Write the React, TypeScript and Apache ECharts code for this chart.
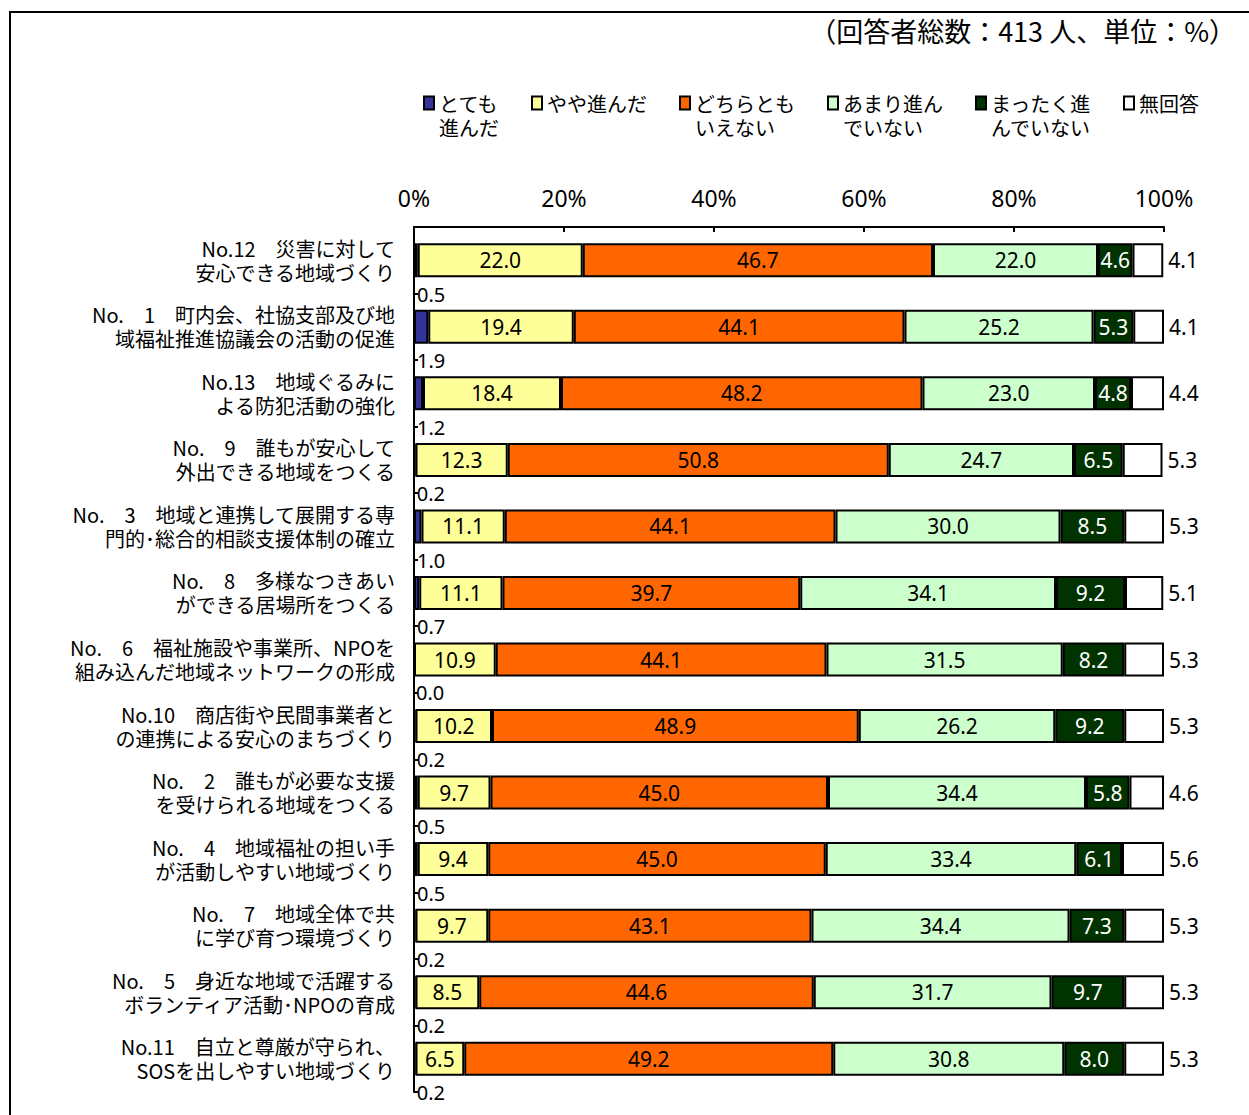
import React, { useEffect, useRef } from "react";
import * as echarts from "echarts";

const categories = [
  "No.12　災害に対して\n安心できる地域づくり",
  "No.　1　町内会、社協支部及び地\n域福祉推進協議会の活動の促進",
  "No.13　地域ぐるみに\nよる防犯活動の強化",
  "No.　9　誰もが安心して\n外出できる地域をつくる",
  "No.　3　地域と連携して展開する専\n門的･総合的相談支援体制の確立",
  "No.　8　多様なつきあい\nができる居場所をつくる",
  "No.　6　福祉施設や事業所、NPOを\n組み込んだ地域ネットワークの形成",
  "No.10　商店街や民間事業者と\nの連携による安心のまちづくり",
  "No.　2　誰もが必要な支援\nを受けられる地域をつくる",
  "No.　4　地域福祉の担い手\nが活動しやすい地域づくり",
  "No.　7　地域全体で共\nに学び育つ環境づくり",
  "No.　5　身近な地域で活躍する\nボランティア活動･NPOの育成",
  "No.11　自立と尊厳が守られ、\nSOSを出しやすい地域づくり",
];

const seriesNames = [
  "とても進んだ",
  "やや進んだ",
  "どちらともいえない",
  "あまり進んでいない",
  "まったく進んでいない",
  "無回答",
];
const legendLabels = [
  "とても\n進んだ",
  "やや進んだ",
  "どちらとも\nいえない",
  "あまり進ん\nでいない",
  "まったく進\nんでいない",
  "無回答",
];

const veryProgressed = [0.5, 1.9, 1.2, 0.2, 1.0, 0.7, 0.0, 0.2, 0.5, 0.5, 0.2, 0.2, 0.2];
const somewhatProgressed = [22.0, 19.4, 18.4, 12.3, 11.1, 11.1, 10.9, 10.2, 9.7, 9.4, 9.7, 8.5, 6.5];
const neither = [46.7, 44.1, 48.2, 50.8, 44.1, 39.7, 44.1, 48.9, 45.0, 45.0, 43.1, 44.6, 49.2];
const notMuch = [22.0, 25.2, 23.0, 24.7, 30.0, 34.1, 31.5, 26.2, 34.4, 33.4, 34.4, 31.7, 30.8];
const notAtAll = [4.6, 5.3, 4.8, 6.5, 8.5, 9.2, 8.2, 9.2, 5.8, 6.1, 7.3, 9.7, 8.0];
const noAnswer = [4.1, 4.1, 4.4, 5.3, 5.3, 5.1, 5.3, 5.3, 4.6, 5.6, 5.3, 5.3, 5.3];

const xTicks = [0, 20, 40, 60, 80, 100];

const colors = ["#333399", "#FFFF99", "#FF6600", "#CCFFCC", "#003300", "#FFFFFF"];
const values = [veryProgressed, somewhatProgressed, neither, notMuch, notAtAll, noAnswer];

const NUM_FONT = "'Noto Sans', 'DejaVu Sans', sans-serif";
const JP_FONT = "'Noto Sans CJK JP', 'Noto Sans', sans-serif";

export default function App() {
  const ref = useRef<HTMLDivElement>(null);

  useEffect(() => {
    if (!ref.current) return;
    const chart = echarts.init(ref.current, null, { renderer: "svg" });
    const BAR_W = 34;

    const series = seriesNames.map((name, i) => {
      let label: any = { show: false };
      const fmt = (p: any) => Number(p.value).toFixed(1);
      if (i === 0) {
        label = {
          show: true,
          position: [3, 51],
          align: "left",
          verticalAlign: "middle",
          color: "#000",
          fontSize: 20,
          fontFamily: NUM_FONT,
          formatter: fmt,
        };
      } else if (i >= 1 && i <= 4) {
        label = {
          show: true,
          position: "inside",
          color: i === 4 ? "#FFFFFF" : "#000000",
          fontSize: 21,
          fontFamily: NUM_FONT,
          formatter: fmt,
        };
      } else if (i === 5) {
        label = {
          show: true,
          position: "right",
          distance: 5,
          color: "#000",
          fontSize: 21,
          fontFamily: NUM_FONT,
          formatter: fmt,
        };
      }
      return {
        name,
        type: "bar",
        stack: "total",
        barWidth: BAR_W,
        data: values[i],
        itemStyle: { color: colors[i], borderColor: "#000", borderWidth: 2 },
        label,
        emphasis: { disabled: true },
      };
    });

    chart.setOption({
      animation: false,
      backgroundColor: "#FFFFFF",
      title: {
        text: "（回答者総数：413 人、単位：%）",
        right: 8,
        top: 12,
        textStyle: { fontSize: 27, fontWeight: "normal", color: "#000", fontFamily: JP_FONT },
      },
      legend: {
        left: 423,
        top: 67,
        padding: 0,
        itemGap: 32,
        itemWidth: 10,
        itemHeight: 13,
        icon: "rect",
        selectedMode: false,
        itemStyle: { borderColor: "#000", borderWidth: 2 },
        textStyle: { fontSize: 20, lineHeight: 24, color: "#000", fontFamily: JP_FONT },
        data: seriesNames,
        formatter: (name: string) => {
          const t = legendLabels[seriesNames.indexOf(name)];
          return t.includes("\n") ? "\n" + t : t;
        },
      },
      grid: { left: 414, right: 85, top: 227, bottom: 23 },
      xAxis: {
        type: "value",
        position: "top",
        min: xTicks[0],
        max: xTicks[xTicks.length - 1],
        interval: 20,
        axisLine: { show: true, lineStyle: { color: "#000", width: 2 } },
        axisTick: { show: true, inside: true, length: 5, lineStyle: { color: "#000", width: 2 } },
        splitLine: { show: false },
        axisLabel: {
          margin: 18,
          fontSize: 23,
          color: "#000",
          fontFamily: NUM_FONT,
          formatter: "{value}%",
        },
      },
      yAxis: {
        type: "category",
        inverse: true,
        data: categories,
        axisLine: { show: true, lineStyle: { color: "#000", width: 2 } },
        axisTick: { show: true, inside: true, length: 4, lineStyle: { color: "#000", width: 2 } },
        axisLabel: {
          margin: 19,
          fontSize: 20,
          lineHeight: 24,
          color: "#000",
          align: "right",
          fontFamily: JP_FONT,
        },
      },
      graphic: [
        {
          type: "rect",
          shape: { x: 10, y: 12, width: 1260, height: 1120 },
          style: { fill: "none", stroke: "#000", lineWidth: 2 },
          silent: true,
          z: 100,
        },
      ],
      series,
    });

    return () => chart.dispose();
  }, []);

  return (
    <div
      ref={ref}
      style={{ position: "absolute", left: 0, top: 0, width: 1249, height: 1115 }}
    />
  );
}
